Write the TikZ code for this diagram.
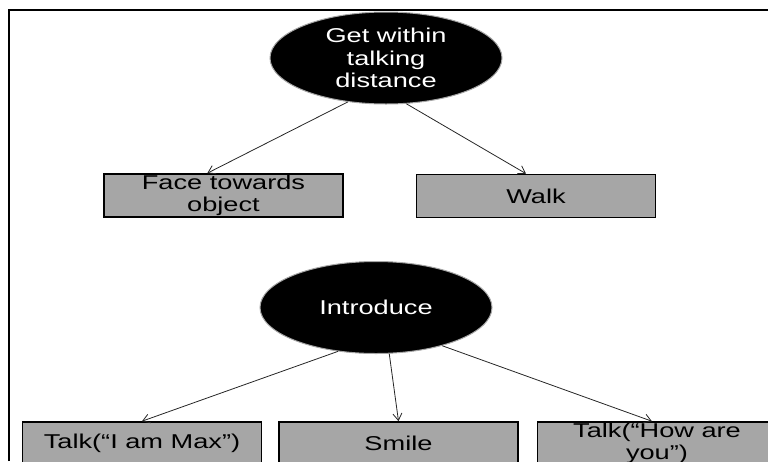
\documentclass[tikz,border=0pt]{standalone}
\usepackage{fontspec}
\setmainfont{Liberation Sans}[FakeStretch=1.36]
\usetikzlibrary{arrows.meta,shapes.geometric}
\definecolor{boxgray}{HTML}{A6A6A6}
\begin{document}
\begin{tikzpicture}[x=1pt,y=-1pt,
  goal/.style={ellipse, fill=black, draw=gray!70, line width=1pt, text=white,
    align=center, inner sep=0pt, minimum width=232pt, minimum height=92pt,
    font=\fontsize{20}{22.5}\selectfont},
  action/.style={rectangle, fill=boxgray, draw=black, line width=1.6pt,
    align=center, inner sep=0pt, minimum width=239pt, minimum height=43pt,
    font=\fontsize{20}{22}\selectfont},
  link/.style={draw=black!85, line width=0.8pt,
    -{Straight Barb[length=7pt,width=9pt]}}]
  \useasboundingbox (0,0) rectangle (768,461);
  \clip (0,0) rectangle (768,461);

  % frame
  \draw[line width=1.2pt] (9,461) -- (9,10) -- (768,10);

  % first goal and its actions
  \node[goal] (reach) at (386,58) {Get within\\talking\\distance};
  \node[action] (face) at (223.5,195.5) {Face towards\\object};
  \node[action] (walk) at (536,196) {Walk};

  % second goal and its actions
  \node[goal] (intro) at (376,307.5) {Introduce};
  \node[action] (talkmax) at (142,443.5) {Talk(“I am Max")};
  \node[action] (smile) at (398.5,443.5) {Smile};
  \node[action] (talkhow) at (657,443.5) {Talk(“How are\\you")};

  % links
  \draw[link] (reach.229) -- (face.126);
  \draw[link] (reach.294) -- (walk.114);
  \draw[link] (intro.229) -- (talkmax.north);
  \draw[link] (intro.286) -- (smile.north);
  \draw[link] (intro.330) -- (talkhow.103);
\end{tikzpicture}
\end{document}
